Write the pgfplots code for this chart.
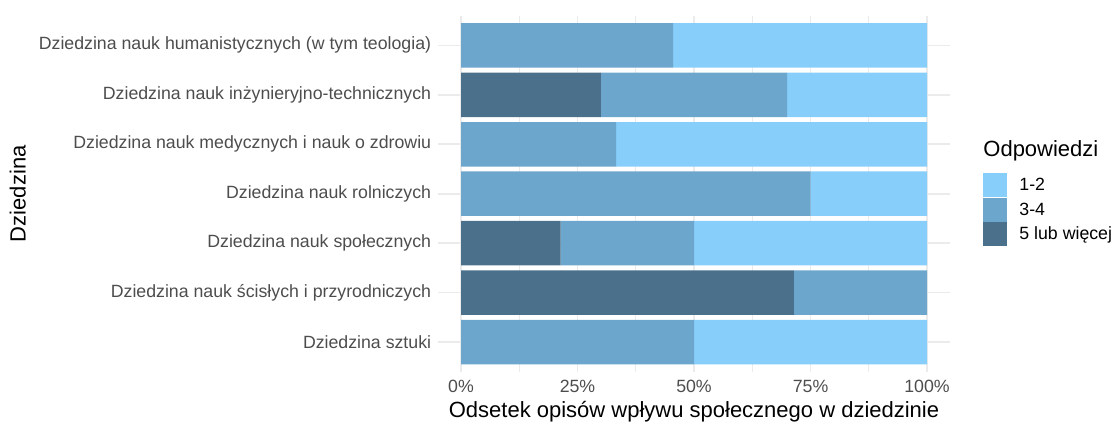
\documentclass[border=0pt]{standalone}
\usepackage{pgfplots}
\pgfplotsset{compat=1.18}
\usepackage{fontspec}
\setmainfont{Liberation Sans}

\definecolor{c12}{HTML}{87CEFA}
\definecolor{c34}{HTML}{6CA6CD}
\definecolor{c5}{HTML}{4A708B}
\definecolor{gridc}{HTML}{EBEBEB}
\definecolor{tickc}{HTML}{4D4D4D}

\begin{document}
\begin{tikzpicture}
\useasboundingbox (-328.3pt,-40pt) rectangle (506.5pt,278.8pt);
\begin{axis}[
    scale only axis, width=384.5pt, height=267pt,
    xbar stacked, bar width=0.9,
    xmin=-5, xmax=105, ymin=-0.6, ymax=6.6, y dir=reverse,
    ytick={0,...,6},
    yticklabels={
      Dziedzina nauk humanistycznych (w tym teologia),
      Dziedzina nauk inżynieryjno-technicznych,
      Dziedzina nauk medycznych i nauk o zdrowiu,
      Dziedzina nauk rolniczych,
      Dziedzina nauk społecznych,
      Dziedzina nauk ścisłych i przyrodniczych,
      Dziedzina sztuki},
    xtick={0,25,50,75,100},
    xticklabels={0\%,25\%,50\%,75\%,100\%},
    minor xtick={12.5,37.5,62.5,87.5},
    xmajorgrids, xminorgrids, ymajorgrids,
    major grid style={gridc, line width=1.2pt},
    minor grid style={gridc, line width=0.6pt},
    axis line style={draw=none},
    tick style={draw=none},
    tick label style={font=\fontsize{13.3}{15}\selectfont, text=tickc},
    yticklabel style={xshift=-1.4pt},
    xticklabel style={yshift=-3pt},
    xlabel={Odsetek opisów wpływu społecznego w dziedzinie},
    ylabel={Dziedzina},
    xlabel style={at={(axis description cs:0.5,-0.113)}, anchor=center,
      font=\fontsize{16.5}{18}\selectfont},
    ylabel style={at={(axis description cs:-0.819,0.5)}, anchor=center,
      rotate=0, font=\fontsize{16.5}{18}\selectfont},
    clip=false,
    legend cell align=left,
    legend style={at={(axis description cs:1.064,0.558)}, anchor=north west,
      draw=none, fill=none, inner sep=0pt, row sep=0.4pt,
      font=\fontsize{13.3}{15}\selectfont,
      /tikz/every odd column/.append style={column sep=7pt}},
    legend image code/.code={\fill[#1] (0pt,-9pt) rectangle (18pt,9pt);},
  ]
  \addlegendimage{fill=c12, draw=none}
  \addlegendentry{1-2}
  \addlegendimage{fill=c34, draw=none}
  \addlegendentry{3-4}
  \addlegendimage{fill=c5, draw=none}
  \addlegendentry{5 lub więcej}

  % 5 lub więcej
  \addplot[fill=c5, draw=none] coordinates {
    (0,0) (30,1) (0,2) (0,3) (21.4,4) (71.4,5) (0,6)};
  % 3-4
  \addplot[fill=c34, draw=none] coordinates {
    (45.5,0) (40,1) (33.3,2) (75,3) (28.6,4) (28.6,5) (50,6)};
  % 1-2
  \addplot[fill=c12, draw=none] coordinates {
    (54.5,0) (30,1) (66.7,2) (25,3) (50,4) (0,5) (50,6)};

  \node[anchor=west, font=\fontsize{16.5}{18}\selectfont, inner sep=0pt]
    at (axis description cs:1.064,0.62) {Odpowiedzi};
\end{axis}
\end{tikzpicture}
\end{document}
